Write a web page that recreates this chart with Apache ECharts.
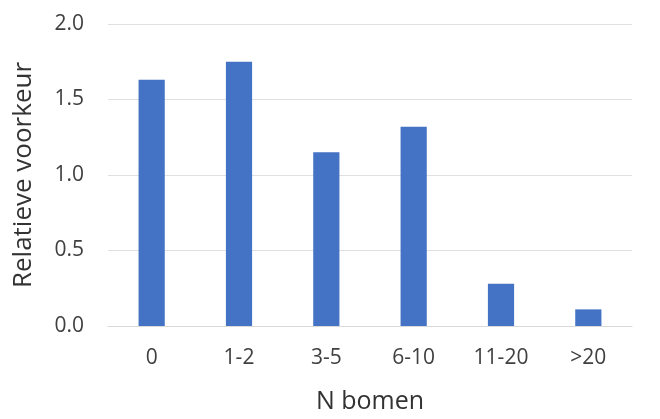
<!DOCTYPE html>
<html>
<head>
<meta charset="utf-8">
<script src="https://cdn.jsdelivr.net/npm/echarts@6/dist/echarts.min.js"></script>
<style>
html,body{margin:0;padding:0;background:#fff;}
#chart{width:660px;height:419px;}
</style>
</head>
<body>
<div id="chart"></div>
<script>
const categories = ["0", "1-2", "3-5", "6-10", "11-20", ">20"];
const values = [1.63, 1.75, 1.15, 1.32, 0.28, 0.11];
const yTicks = [0, 0.5, 1.0, 1.5, 2.0];

const chart = echarts.init(document.getElementById('chart'));
const font = '"Open Sans", "Liberation Sans", sans-serif';
chart.setOption({
  animation: false,
  backgroundColor: '#ffffff',
  grid: { left: 108, right: 28, top: 24, bottom: 93 },
  xAxis: {
    type: 'category',
    data: categories,
    name: 'N bomen',
    nameLocation: 'middle',
    nameGap: 63,
    nameTextStyle: { fontFamily: font, fontSize: 25, color: '#333333' },
    axisLine: { show: true, lineStyle: { color: '#d9d9d9', width: 1 } },
    axisTick: { show: false },
    axisLabel: { fontFamily: font, fontSize: 21, color: '#404040', margin: 22 }
  },
  yAxis: {
    type: 'value',
    min: yTicks[0],
    max: yTicks[yTicks.length - 1],
    interval: 0.5,
    name: 'Relatieve voorkeur',
    nameLocation: 'middle',
    nameGap: 71,
    nameTextStyle: { fontFamily: font, fontSize: 26, color: '#333333' },
    axisLine: { show: false },
    axisTick: { show: false },
    splitLine: { lineStyle: { color: '#e0e0e0', width: 1 } },
    axisLabel: {
      fontFamily: font, fontSize: 21, color: '#404040', margin: 24,
      formatter: v => v.toFixed(1)
    }
  },
  series: [{
    type: 'bar',
    data: values,
    barWidth: '30%',
    itemStyle: { color: '#4472c4' }
  }]
});
</script>
</body>
</html>
